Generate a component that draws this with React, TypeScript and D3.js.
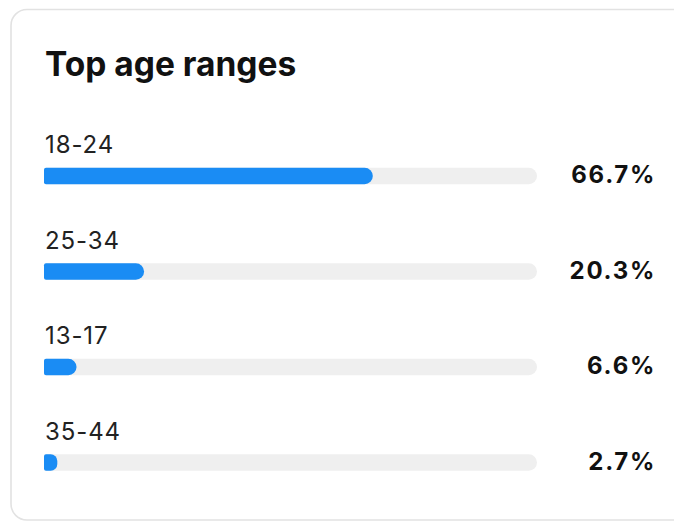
import React from "react";
import * as d3 from "d3";

const title = "Top age ranges";
const categories = ["18-24", "25-34", "13-17", "35-44"];
const values = [66.7, 20.3, 6.6, 2.7];
const valueLabels = ["66.7%", "20.3%", "6.6%", "2.7%"];

const W = 674;
const H = 523;

function barPath(x0: number, x1: number, y: number, h: number, rl: number, rr: number) {
  const p = d3.path();
  const r = Math.min(rr, (x1 - x0) / 2, h / 2);
  const l = Math.min(rl, h / 2);
  p.moveTo(x0 + l, y);
  p.lineTo(x1 - r, y);
  p.arcTo(x1, y, x1, y + r, r);
  p.lineTo(x1, y + h - r);
  p.arcTo(x1, y + h, x1 - r, y + h, r);
  p.lineTo(x0 + l, y + h);
  p.arcTo(x0, y + h, x0, y + h - l, l);
  p.lineTo(x0, y + l);
  p.arcTo(x0, y, x0 + l, y, l);
  p.closePath();
  return p.toString();
}

export default function App() {
  const x = d3.scaleLinear().domain([0, 100]).range([44, 537]);
  const y = d3.scalePoint<string>().domain(categories).range([176, 462.5]);
  const barH = 16.5;
  const font = "Inter, 'Noto Sans', sans-serif";
  return (
    <svg
      width={W}
      height={H}
      style={{ position: "absolute", left: 0, top: 0, display: "block", background: "#fff" }}
    >
      <rect x={11} y={9.5} width={720} height={510.5} rx={16} ry={16} fill="#fff" stroke="#e2e2e2" strokeWidth={1.6} />
      <text x={45} y={76} fontFamily={font} fontWeight={700} fontSize={33.5} fill="#111">
        {title}
      </text>
      {categories.map((c, i) => {
        const cy = y(c)!;
        return (
          <g key={c}>
            <text x={45} y={cy - 23} fontFamily={font} fontSize={24} letterSpacing={0.9} fill="#222">
              {c}
            </text>
            <path d={barPath(x(0), x(100), cy - barH / 2, barH, 3, barH / 2)} fill="#efefef" />
            <path d={barPath(x(0), x(values[i]), cy - barH / 2, barH, 2, barH / 2)} fill="#1a8cf4" />
            <text x={656} y={cy + 7.3} textAnchor="end" fontFamily={font} fontWeight={700} fontSize={24} letterSpacing={1.7} fill="#111">
              {valueLabels[i]}
            </text>
          </g>
        );
      })}
    </svg>
  );
}
